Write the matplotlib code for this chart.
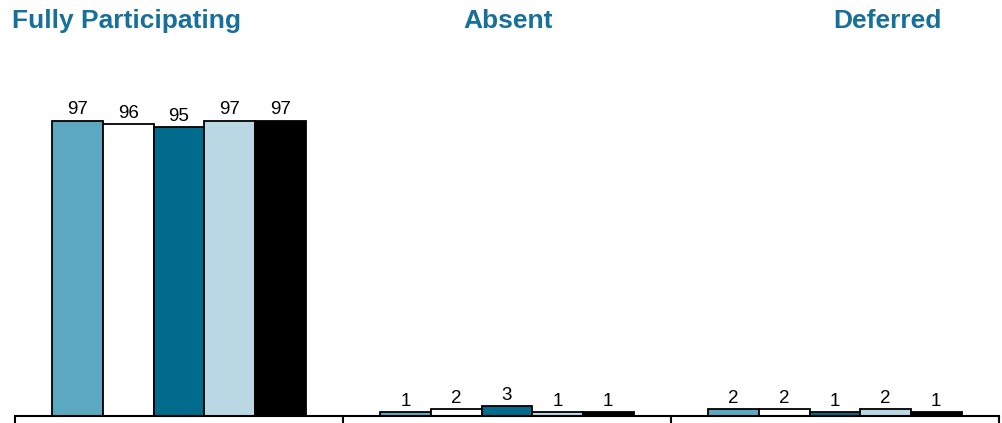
import matplotlib
matplotlib.use("Agg")
import matplotlib.pyplot as plt
import numpy as np

plt.rcParams['font.family'] = ['Liberation Sans', 'DejaVu Sans']

categories = ["Fully Participating", "Absent", "Deferred"]
series_values = [
    [97, 1, 2],
    [96, 2, 2],
    [95, 3, 1],
    [97, 1, 2],
    [97, 1, 1],
]
series_colors = ["#5BA8C0", "#FFFFFF", "#006B8C", "#BAD8E3", "#000000"]
title_color = "#17709A"

W, H = 1003, 423
fig = plt.figure(figsize=(W / 100, H / 100), dpi=100)
ax_left, ax_right = 15 / W, 999 / W
ax_bottom = (H - 415.5) / H
ax_top = 1 - (415.5 - 3.04 * 100) / H
ax = fig.add_axes([ax_left, ax_bottom, ax_right - ax_left, ax_top - ax_bottom])

n = len(series_values)
group_w = 0.772
bw = group_w / n
x = np.arange(len(categories))
for i, (vals, col) in enumerate(zip(series_values, series_colors)):
    pos = x - group_w / 2 + bw * (i + 0.5)
    ax.bar(pos, vals, width=bw, color=col, edgecolor="black", linewidth=1.3, zorder=2)
    for p, v in zip(pos, vals):
        ax.text(p, v + 0.7, str(v), ha="center", va="bottom", fontsize=13.5, color="black")

ax.set_xlim(-0.5, len(categories) - 0.5)
ax.set_ylim(0, 100)
for s in ["left", "right", "top"]:
    ax.spines[s].set_visible(False)
ax.spines["bottom"].set_linewidth(1.5)
ax.set_yticks([])
ax.set_xticks(np.arange(len(categories) + 1) - 0.5)
ax.set_xticklabels([])
ax.tick_params(axis="x", direction="out", length=7, width=1.5)

title_centers = [126, 508, 887]
for cat, cx in zip(categories, title_centers):
    fig.text(cx / W, 1 - 21 / H, cat, ha="center", va="center",
             fontsize=19, fontweight="bold", color=title_color)

fig.savefig("out.png", dpi=100)
